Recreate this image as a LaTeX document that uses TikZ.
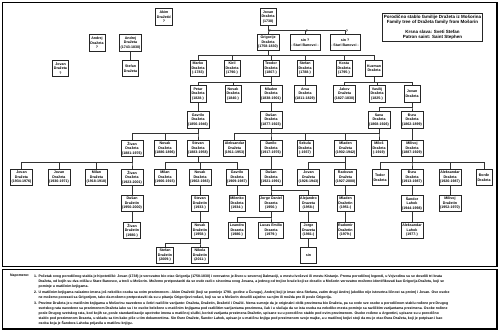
\documentclass[tikz,border=0pt]{standalone}
\usepackage{fontspec}
\setmainfont{Liberation Sans}

\begin{document}
\begin{tikzpicture}[
  x=2pt, y=-2pt,
  box/.style={draw=black!85, line width=1.3pt, align=center, font=\bfseries\fontsize{7.2}{9}\selectfont,
    minimum width=32pt, minimum height=33pt, inner xsep=2.5pt, inner ysep=1.5pt},
  link/.style={draw=black!80, line width=1.2pt},
  frame/.style={draw, line width=3.5pt},
  qmark/.style={font=\bfseries\fontsize{7.2}{9}\selectfont, inner sep=1pt, right},
  notes/.style={font=\bfseries\fontsize{7}{10}\selectfont, inner sep=0pt, align=left}
]
\useasboundingbox (0,0) rectangle (500,332);

% Frames
\draw[frame] (2.5,2.5) rectangle (497,266.5);
\draw[frame] (2.5,269.5) rectangle (497,329);

% Title
\node[box, line width=1pt, font=\bfseries\fontsize{9}{10.5}\selectfont, inner sep=3pt] (naslov) at (432.5,27)
  {Porodično stablo familije Dražeta iz Mošorina\\Family tree of Dražeta family from Mošorin\\[9pt]
   Krsna slava: Sveti Stefan\\Patron saint: Saint Stephen};

% Nodes - generation 0
\node[box] (akim) at (164,17) {Akim\\Dražetić\\?};
\node[box] (jovanA) at (268,17) {Jovan\\Dražeta\\(1738)};

% Nodes - generation 1
\node[box] (andrejA) at (97,43) {Andrej\\Dražeta\\?};
\node[box] (andrejB) at (130.5,43) {Andrej\\Dražeta\\(1743-1830)};
\node[box] (grigorije) at (268,42.5) {Grigorije\\Dražeta\\(1758-1830)};
\node[box] (sinA) at (305,42.5) {sin ?\\- Stari Banovci -};
\node[box] (sinB) at (345,42.5) {sin ?\\- Stari Banovci -};

% Nodes - generation 2
\node[box] (jovanB) at (60.5,68.5) {Jovan\\Dražeta\\?};
\node[box] (stefanA) at (130.5,68.5) {Stefan\\Dražeta};
\node[box] (marko) at (198,68.5) {Marko\\Dražeta\\(-1783)};
\node[box] (kiril) at (232,68.5) {Kiril\\Dražeta\\(1790-)};
\node[box] (teodor) at (271,68.5) {Teodor\\Dražeta\\(1807-)};
\node[box] (stefanB) at (305,68.5) {Stefan\\Dražeta\\(1788-)};
\node[box] (kosta) at (344,68.5) {Kosta\\Dražeta\\(1795-)};
\node[box] (kuzman) at (374,68.5) {Kuzman\\Dražeta};

% Nodes - generation 3
\node[box] (petar) at (198,94) {Petar\\Dražeta\\(1828-)};
\node[box] (novakA) at (233,94) {Novak\\Dražeta\\(1840-)};
\node[box] (mladenA) at (271,94) {Mladen\\Dražeta\\(1838-1901)};
\node[box] (arsa) at (305,94) {Arsa\\Dražeta\\(1811-1829)};
\node[box] (jakov) at (344.5,94) {Jakov\\Dražeta\\(1827-1830)};
\node[box] (vasilij) at (377,94) {Vasilij\\Dražeta\\(1825-)};
\node[box] (jovanC) at (412,94) {Jovan\\Dražeta};

% Nodes - generation 4
\node[box] (gavriloA) at (198,120) {Gavrilo\\Dražeta\\(1856-1946)};
\node[box] (dusanA) at (271,120) {Dušan\\Dražeta\\(1877-1923)};
\node[box] (sava) at (379,120) {Sava\\Dražeta\\(1868-1926)};
\node[box] (djuraA) at (412,120) {Đura\\Dražeta\\(1862-1899)};

% Nodes - generation 5
\node[box] (zivanA) at (132,148.5) {Živan\\Dražeta\\(1881-1976)};
\node[box] (novakB) at (165,148.5) {Novak\\Dražeta\\(1886-1896)};
\node[box] (stevanA) at (198,148.5) {Stevan\\Dražeta\\(1883-1958)};
\node[box] (aleksandarA) at (234.5,148.5) {Aleksandar\\Dražeta\\(1911-1953)};
\node[box] (danilo) at (271,148.5) {Danilo\\Dražeta\\(1917-1976)};
\node[box] (sekula) at (305,148.5) {Sekula\\Dražeta\\(-1937)};
\node[box] (mladenB) at (345.5,148.5) {Mladen\\Dražeta\\(1902-1942)};
\node[box] (milos) at (379,148.5) {Miloš\\Dražeta\\(-1919)};
\node[box] (milivojA) at (412,148.5) {Milivoj\\Dražeta\\(1887-1929)};

% Nodes - generation 6
\node[box] (jovanD) at (21.5,177.5) {Jovan\\Dražeta\\(1934-1976)};
\node[box] (jovanE) at (59,177.5) {Jovan\\Dražeta\\(1930-1971)};
\node[box] (milanA) at (96.5,177.5) {Milan\\Dražeta\\(1918-1918)};
\node[box] (zivanB) at (132,177.5) {Živan\\Dražeta\\(1923-2001)};
\node[box] (milanB) at (165,177.5) {Milan\\Dražeta\\(1906-1915)};
\node[box] (novakC) at (200,177.5) {Novak\\Dražeta\\(1902-1983)};
\node[box] (gavriloB) at (237,177.5) {Gavrilo\\Dražeta\\(1909-1987)};
\node[box] (dusanB) at (271,177.5) {Dušan\\Dražeta\\(1921-1991)};
\node[box] (jovanF) at (308.5,177.5) {Jovan\\Dražeta\\(1926-1943)};
\node[box] (radovan) at (345.5,177.5) {Radovan\\Dražeta\\(1927-2000)};
\node[box] (todor) at (380,177.5) {Todor\\Dražeta};
\node[box] (djuraB) at (412,177.5) {Đura\\Dražeta\\(1913-1987)};
\node[box] (aleksandarB) at (450,177.5) {Aleksandar\\Dražeta\\(1920-1987)};
\node[box] (djordje) at (484,177.5) {Đorđe\\Dražeta};

% Nodes - generation 7
\node[box] (dusanC) at (132,203.5) {Dušan\\Dražetin\\(1950-2000)};
\node[box] (stevanB) at (200,203.5) {Stevan\\Dražetin\\(1933-)};
\node[box] (milenko) at (237,203.5) {Milenko\\Dražeta\\(1934-)};
\node[box] (jorgeD) at (271,203.5) {Jorge Daniel\\Drazeta\\(1956-)};
\node[box] (alejandro) at (308.5,203.5) {Alejandro\\Drazeta\\(1958-)};
\node[box] (mladenC) at (345.5,203.5) {Mladen\\Dražetin\\(1951-)};
\node[box] (sandor) at (412,203.5) {Šandor\\Lahok\\(1944-1998)};
\node[box] (milivojB) at (450,203.5) {Milivoj\\Dražetin\\(1952-1970)};

% Nodes - generation 8
\node[box] (zivanC) at (132,230.5) {Živan\\Dražetin\\(1980-)};
\node[box] (novakD) at (200,230.5) {Novak\\Dražetin\\(1958-)};
\node[box] (leandro) at (237,230.5) {Leandro\\Drazeta\\(1986-)};
\node[box] (lucas) at (271,230.5) {Lucas Emilio\\Drazeta\\(1979-)};
\node[box] (jorge) at (308.5,230.5) {Jorge\\Drazeta\\(1981-)};
\node[box] (radomir) at (345.5,230.5) {Radomir\\Dražetin\\(1979-)};
\node[box] (aleksandarC) at (412,230.5) {Aleksandar\\Lahok\\(1977-)};

% Nodes - generation 9
\node[box] (stefanC) at (165,255.5) {Stefan\\Dražetin\\(2009-)};
\node[box] (nikola) at (200,255.5) {Nikola\\Dražetin\\(2011-)};
\node[box] (sin) at (308.5,255.5) {sin};

% Pointers
\draw[link] (jovanA.south) -- ++(0,5) -| node[qmark, pos=0.62] {?} (grigorije.north);
\draw[link] (jovanA.south) -- ++(0,5) -| node[qmark, pos=0.62] {?} (sinA.north);
\draw[link] (jovanA.south) -- ++(0,5) -| node[qmark, pos=0.62] {?} (sinB.north);
\draw[link] (andrejB) -- (stefanA);

\draw[link] (grigorije.south) -- ++(0,4.5) -| (marko.north);
\draw[link] (grigorije.south) -- ++(0,4.5) -| (kiril.north);
\draw[link] (grigorije.south) -- ++(0,4.5) -| (teodor.north);
\draw[link] (grigorije.south) -- ++(0,4.5) -| (stefanB.north);
\draw[link] (grigorije.south) -- ++(0,4.5) -| (kosta.north);
\draw[link] (grigorije.south) -- ++(0,4.5) -| (kuzman.north);

\draw[link] (teodor.south) -- ++(0,5) -| (petar.north);
\draw[link] (teodor.south) -- ++(0,5) -| (novakA.north);
\draw[link] (teodor.south) -- ++(0,5) -| (mladenA.north);
\draw[link] (stefanB) -- (arsa);
\draw[link] (kuzman.south) -- ++(0,5) -| (jakov.north);
\draw[link] (kuzman.south) -- ++(0,5) -| (vasilij.north);
\draw[link] (kuzman.south) -- ++(0,5) -| (jovanC.north);

\draw[link] (petar) -- (gavriloA);
\draw[link] (mladenA) -- (dusanA);
\draw[link] (jovanC.south) -- ++(0,5) -| (sava.north);
\draw[link] (jovanC.south) -- ++(0,5) -| (djuraA.north);

\draw[link] (gavriloA.south) -- ++(0,5) -| (zivanA.north);
\draw[link] (gavriloA.south) -- ++(0,5) -| (novakB.north);
\draw[link] (gavriloA.south) -- ++(0,5) -| (stevanA.north);
\draw[link] (dusanA.south) -- ++(0,5) -| (aleksandarA.north);
\draw[link] (dusanA.south) -- ++(0,5) -| (danilo.north);
\draw[link] (dusanA.south) -- ++(0,5) -| (sekula.north);
\draw[link] (sava.south) -- ++(0,5) -| (sekula.north);
\draw[link] (sava.south) -- ++(0,5) -| (mladenB.north);
\draw[link] (sava.south) -- ++(0,5) -| (milos.north);
\draw[link] (djuraA) -- (milivojA);

\draw[link] (zivanA.south) -- ++(0,5.5) -| (jovanD.north);
\draw[link] (zivanA.south) -- ++(0,5.5) -| (jovanE.north);
\draw[link] (zivanA.south) -- ++(0,5.5) -| (milanA.north);
\draw[link] (zivanA.south) -- ++(0,5.5) -| (zivanB.north);
\draw[link] (stevanA.south) -- ++(0,5.5) -| (milanB.north);
\draw[link] (stevanA.south) -- ++(0,5.5) -| (novakC.north);
\draw[link] (stevanA.south) -- ++(0,5.5) -| (gavriloB.north);
\draw[link] (danilo) -- (dusanB);
\draw[link] (mladenB.south) -- ++(0,5.5) -| (jovanF.north);
\draw[link] (mladenB.south) -- ++(0,5.5) -| (radovan.north);
\draw[link] (milivojA.south) -- ++(0,5.5) -| (todor.north);
\draw[link] (milivojA.south) -- ++(0,5.5) -| (djuraB.north);
\draw[link] (milivojA.south) -- ++(0,5.5) -| (aleksandarB.north);
\draw[link] (milivojA.south) -- ++(0,5.5) -| (djordje.north);

\draw[link] (zivanB) -- (dusanC);
\draw[link] (novakC) -- (stevanB);
\draw[link] (gavriloB) -- (milenko);
\draw[link] (dusanB.south) -- ++(0,4) -| (jorgeD.north);
\draw[link] (dusanB.south) -- ++(0,4) -| (alejandro.north);
\draw[link] (radovan) -- (mladenC);
\draw[link] (djuraB) -- (sandor);
\draw[link] (aleksandarB) -- (milivojB);

\draw[link] (dusanC) -- (zivanC);
\draw[link] (stevanB) -- (novakD);
\draw[link] (jorgeD.south) -- ++(0,5) -| (leandro.north);
\draw[link] (jorgeD.south) -- ++(0,5) -| (lucas.north);
\draw[link] (alejandro) -- (jorge);
\draw[link] (mladenC) -- (radomir);
\draw[link] (sandor) -- (aleksandarC);

\draw[link] (novakD.south) -- ++(0,4) -| (stefanC.north);
\draw[link] (novakD.south) -- ++(0,4) -| (nikola.north);
\draw[link] (jorge) -- (sin);

% Notes
\node[notes, anchor=north west] (napomene) at (10,273.5) {Napomene:};
\node[notes, anchor=north west] (stavke) at (34,273.5) {%
\begin{tabular}{@{}r@{\hspace{3pt}}l@{}}
1. & Početak ovog porodičnog stabla je hipotetički: Jovan (1738) je verovatno bio otac Grigorija (1758-1830) i verovatno je živeo u severnoj Dalmaciji, u mestu Ivoševci ili mestu Kistanje. Prema porodičnoj legendi, u Vojvodinu su se doselili tri brata\\
 & Dražeta, od kojih su dva otišla u Stare Banovce, a treći u Mošorin. Možemo pretpostaviti da se ovde radi o sinovima ovog Jovana, a jednog od trojice braće koji se doselio u Mošorin verovatno možemo identifikovati kao Grigorija Dražetu, koji se\\
 & pominje u matičnim knjigama.\\[2pt]
2. & U matičnim knjigama nalazimo imena još nekoliko osoba sa ovim prezimenom - Akim Dražetić (koji se pominje 1790. godine u Čurugu), Andrej koji je imao sina Stefana, zatim drugi Andrej (ukoliko nije istovetna ličnost sa prvim) i Jovan. Ove osobe\\
 & ne možemo povezati sa Grigorijem, tako da možemo pretpostaviti da su u pitanju Grigorijevi rođaci, koji su se u Mošorin doselili zajedno sa njim ili možda pre ili posle Grigorija.\\[3pt]
3. & Prezime Dražeta je u matičnim knjigama u Mošorinu navedeno u četiri različite varijante: Dražeta, Dražetin, Dražetić i Dražić. Nema sumnje da je originalni oblik prezimena bio Dražeta, pa su ovde sve osobe u porodičnom stablu rođene pre Drugog\\
 & svetskog rata navedene sa prezimenom Dražeta iako su i te osobe beležene u matičnim knjigama pod različitim varijantama prezimena, čak i u slučaju da se ista osoba na nekoliko mesta pominje sa različitim varijantama prezimena. Osobe rođene\\
 & posle Drugog svetskog rata, kod kojih se, posle standardizacije upotrebe imena u matičnoj službi, koristi varijanta prezimena Dražetin, upisane su u porodično stablo pod ovim prezimenom. Osobe rođene u Argentini, upisane su u porodično\\
 & stablo pod prezimenom Drazeta, u skladu sa tim kako piše u tim dokumentima. Sin Đure Dražete, Šandor Lahok, upisan je u matičnu knjigu pod prezimenom svoje majke, a u matičnoj knjizi stoji da mu je otac Đura Dražeta, koji je potpisan i kao\\
 & osoba koja je Šandora Lahoka prijavila u matičnu knjigu.
\end{tabular}};

\end{tikzpicture}
\end{document}
